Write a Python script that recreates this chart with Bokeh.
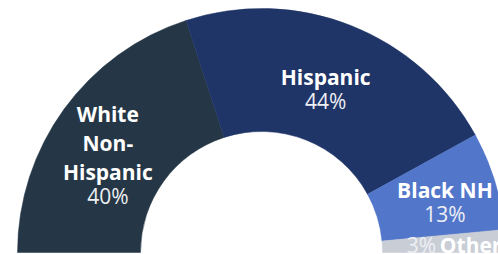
import math
from bokeh.plotting import figure
from bokeh.models import ColumnDataSource, Range1d
from bokeh.core.properties import value
from bokeh.embed import file_html
from bokeh.resources import INLINE

# ---- data ----
groups = ["White Non-Hispanic", "Hispanic", "Black NH", "Other"]
name_lines = [["White", "Non-", "Hispanic"], ["Hispanic"], ["Black NH"], ["Other"]]
shares = [40, 44, 13, 3]
colors = ["#253746", "#1f3567", "#5277ca", "#c9cdd6"]

# ---- geometry (pixel-like data units, y up) ----
W, H = 498, 254
CX, CY = 261, 2
R_IN, R_OUT = 121, 244
R_MID = (R_IN + R_OUT) / 2

total = sum(shares)
starts, ends, mids = [], [], []
cum = 0
for s in shares:
    e = math.pi * (1 - cum / total)
    cum += s
    st = math.pi * (1 - cum / total)
    starts.append(st)
    ends.append(e)
    mids.append((st + e) / 2)

p = figure(width=W, height=H, output_backend="svg", toolbar_location=None,
           x_range=Range1d(0, W), y_range=Range1d(0, H),
           x_axis_location=None, y_axis_location=None, min_border=0)
p.outline_line_color = None
p.xgrid.visible = False
p.ygrid.visible = False
p.background_fill_color = "white"

src = ColumnDataSource(dict(x=[CX] * len(shares), y=[CY] * len(shares),
                            start=starts, end=ends, color=colors, group=groups))
p.annular_wedge(x="x", y="y", inner_radius=R_IN, outer_radius=R_OUT,
                start_angle="start", end_angle="end", color="color",
                line_color="color", line_width=0.5, source=src)

# label placement tweaks (pixels): dx, dy from mid-ring anchor to first line
tweaks = [(-6, 31.7), (-3, 6.3), (9, 9), (0, 0)]
LINE = 29
GAP = 24.5

nx, ny, nt = [], [], []
px, py, pt = [], [], []
for i, (lines, s) in enumerate(zip(name_lines, shares)):
    if groups[i] == "Other":
        continue
    ax = CX + R_MID * math.cos(mids[i])
    ay = CY + R_MID * math.sin(mids[i])
    dx, dy = tweaks[i]
    y0 = ay + dy
    for k, ln in enumerate(lines):
        nx.append(ax + dx)
        ny.append(y0 - k * LINE)
        nt.append(ln)
    px.append(ax + dx)
    py.append(y0 - (len(lines) - 1) * LINE - GAP)
    pt.append(f"{s}%")

p.text(x=nx, y=ny, text=nt, text_font=value("Open Sans"), text_font_style="bold",
       text_font_size="21px", text_color="white", text_align="center",
       text_baseline="alphabetic")
p.text(x=px, y=py, text=pt, text_font=value("Open Sans"),
       text_font_size="21px", text_color="#eef0f4", text_align="center",
       text_baseline="alphabetic")

# small "Other" slice label, placed along the slice
oi = groups.index("Other")
ox = CX + R_MID * math.cos(mids[oi])
oy = CY + R_MID * math.sin(mids[oi])
p.text(x=[ox - 37], y=[oy - 1], text=[f"{shares[oi]}%"], text_font=value("Open Sans"),
       text_font_size="21px", text_color="#eef0f4", text_align="left",
       text_baseline="alphabetic")
p.text(x=[ox - 4], y=[oy - 1], text=[name_lines[oi][0]], text_font=value("Open Sans"),
       text_font_style="bold", text_font_size="21px", text_color="white",
       text_align="left", text_baseline="alphabetic")

open("out.html", "w").write(file_html(p, INLINE))
